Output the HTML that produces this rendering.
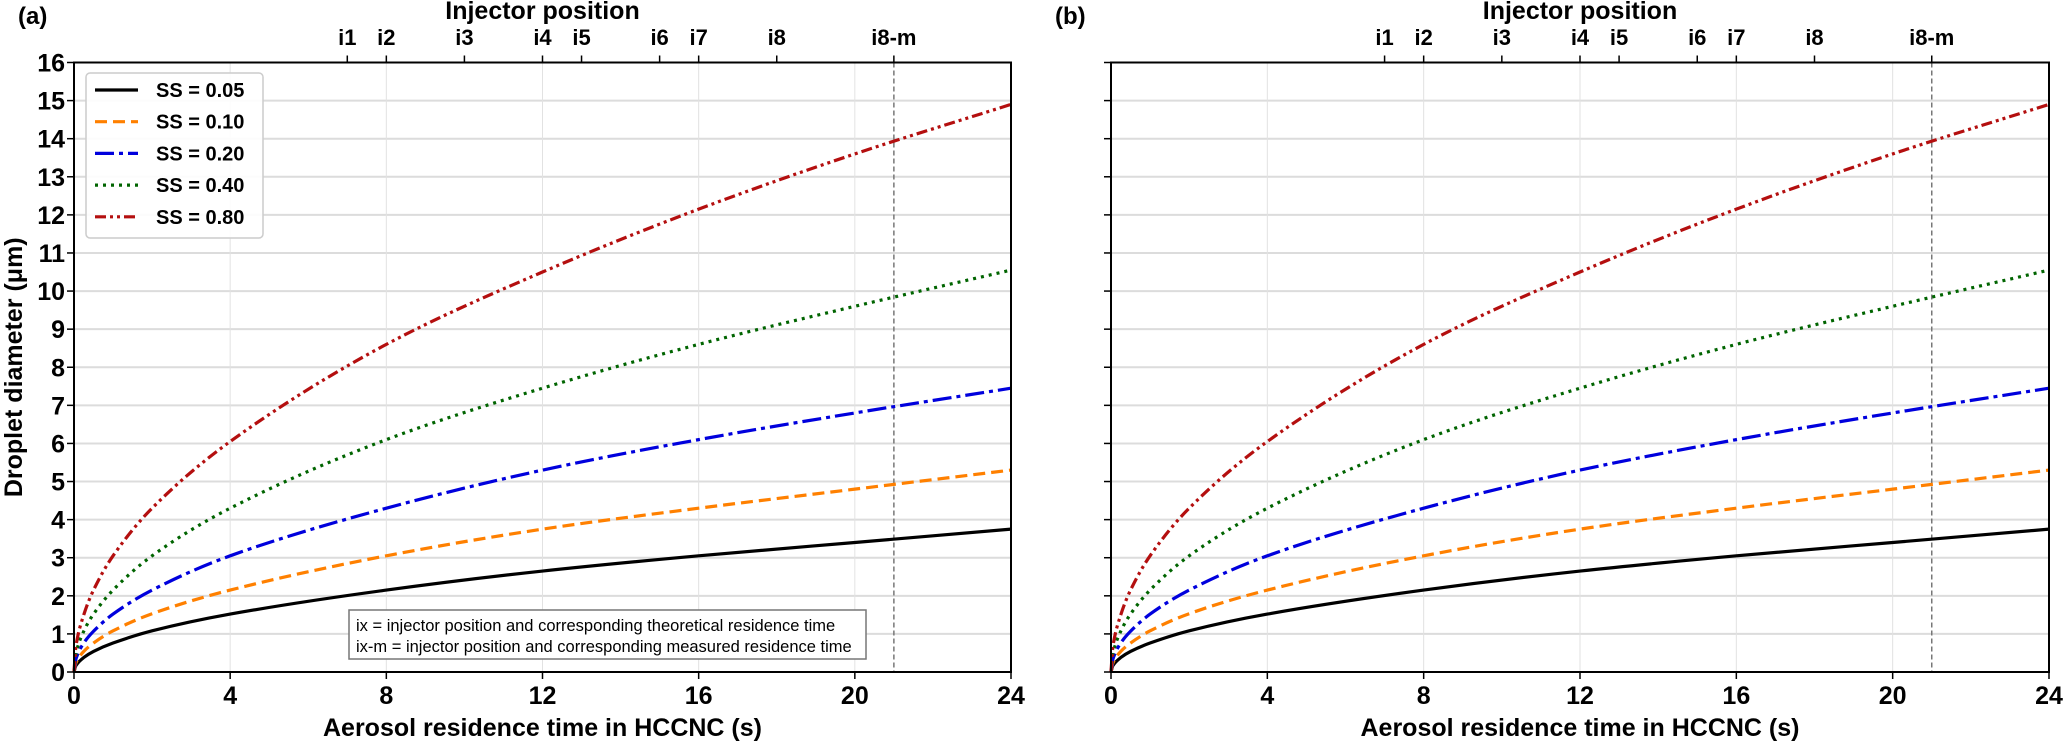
<!DOCTYPE html>
<html><head><meta charset="utf-8"><style>
html,body{margin:0;padding:0;background:#fff;}
svg{display:block;font-family:"Liberation Sans",Arial,sans-serif;}
</style></head><body>
<svg id="chart" width="2067" height="741" viewBox="0 0 2067 741" xmlns="http://www.w3.org/2000/svg"></svg>
<script>
// ---- data ----
const times = [0, 0.05, 0.25, 0.5, 1, 2, 4, 8, 12, 16, 20, 24];
const ss005 = [0, 0.17, 0.38, 0.54, 0.76, 1.08, 1.52, 2.15, 2.65, 3.05, 3.4, 3.75];
const ss010 = [0, 0.24, 0.54, 0.76, 1.08, 1.53, 2.15, 3.05, 3.75, 4.3, 4.8, 5.3];
const ss020 = [0, 0.34, 0.76, 1.07, 1.52, 2.15, 3.05, 4.3, 5.3, 6.1, 6.8, 7.45];
const ss040 = [0, 0.48, 1.07, 1.52, 2.15, 3.05, 4.3, 6.1, 7.45, 8.6, 9.6, 10.55];
const ss080 = [0, 0.68, 1.5, 2.15, 3.05, 4.3, 6.05, 8.6, 10.5, 12.15, 13.6, 14.9];
const seriesLabels = ["SS = 0.05", "SS = 0.10", "SS = 0.20", "SS = 0.40", "SS = 0.80"];
const xTicks = [0, 4, 8, 12, 16, 20, 24];
const yTicks = [0,1,2,3,4,5,6,7,8,9,10,11,12,13,14,15,16];
const injectorPos = [7, 8, 10, 12, 13, 15, 16, 18, 21];
const injectorLabels = ["i1","i2","i3","i4","i5","i6","i7","i8","i8-m"];
const measuredLine = 21;

const allSeries = [ss005, ss010, ss020, ss040, ss080];
const styles = [
  {c:"#000000", d:""},
  {c:"#ff8000", d:"12,6"},
  {c:"#0000dd", d:"19,5,4,5"},
  {c:"#006400", d:"3,5"},
  {c:"#b40f0f", d:"11,4,3,4,3,4"}
];
const NS = "http://www.w3.org/2000/svg";
const svg = document.getElementById("chart");
function mk(tag, attrs, parent, text){
  const e = document.createElementNS(NS, tag);
  for (const k in attrs) e.setAttribute(k, attrs[k]);
  if (text !== undefined) e.textContent = text;
  (parent||svg).appendChild(e);
  return e;
}
function monoPath(xs, ys){
  const n = xs.length, d=[], m=[];
  for(let i=0;i<n-1;i++) d.push((ys[i+1]-ys[i])/(xs[i+1]-xs[i]));
  m[0]=d[0]; m[n-1]=d[n-2];
  for(let i=1;i<n-1;i++){ m[i] = (d[i-1]*d[i]<=0)?0:2/(1/d[i-1]+1/d[i]); }
  let p = "M"+xs[0].toFixed(2)+","+ys[0].toFixed(2);
  for(let i=0;i<n-1;i++){
    const h=(xs[i+1]-xs[i])/3;
    p += " C"+(xs[i]+h).toFixed(2)+","+(ys[i]+m[i]*h).toFixed(2)+" "+(xs[i+1]-h).toFixed(2)+","+(ys[i+1]-m[i+1]*h).toFixed(2)+" "+xs[i+1].toFixed(2)+","+ys[i+1].toFixed(2);
  }
  return p;
}

function panel(L, R, letter, showY, showLegend){
  const T = 62.5, B = 672;
  const xS = t => L + (t/24)*(R-L);
  const yS = v => B - (v/16)*(B-T);
  const g = mk("g", {});
  
  
  const lab = mk("text", {x: L-56, y: 24, "font-size": 24, "font-weight":"bold"}, g, "("+letter+")");
  
  
  yTicks.forEach(v => {
    const gl = mk("line", {x1:L, x2:R, y1:yS(v), y2:yS(v), stroke:"#dcdcdc", "stroke-width":2}, g);
    
    
  });
  xTicks.forEach(t => {
    const gl = mk("line", {x1:xS(t), x2:xS(t), y1:T, y2:B, stroke:"#e2e2e2", "stroke-width":1}, g);
    
    
  });
  const ml = mk("line", {x1:xS(measuredLine), x2:xS(measuredLine), y1:T, y2:B, stroke:"#777", "stroke-width":1.5, "stroke-dasharray":"5,3"}, g);
  
  
  allSeries.forEach((s, i) => {
    const p = mk("path", {d: monoPath(times.map(xS), s.map(yS)), fill:"none", stroke: styles[i].c, "stroke-width":3.2, "stroke-dasharray": styles[i].d || "none"}, g);
    
    
  });
  const fr = mk("rect", {x:L, y:T, width:R-L, height:B-T, fill:"none", stroke:"#000", "stroke-width":2}, g);
  
  
  xTicks.forEach(t => {
    mk("line", {x1:xS(t), x2:xS(t), y1:B, y2:B+7, stroke:"#000", "stroke-width":1.5}, g);
    const tl = mk("text", {x:xS(t), y:704, "font-size":25, "font-weight":"bold", "text-anchor":"middle"}, g, String(t));
    
    
  });
  const xl = mk("text", {x:(L+R)/2, y:736, "font-size":25, "font-weight":"bold", "text-anchor":"middle"}, g, "Aerosol residence time in HCCNC (s)");
  
  
  yTicks.forEach(v => {
    mk("line", {x1:L-7, x2:L, y1:yS(v), y2:yS(v), stroke:"#000", "stroke-width":1.5}, g);
    if (showY){
      const tl = mk("text", {x:L-9, y:yS(v)+9, "font-size":25, "font-weight":"bold", "text-anchor":"end"}, g, String(v));
      
      
    }
  });
  if (showY){
    const yl = mk("text", {x:0, y:0, "font-size":25, "font-weight":"bold", "text-anchor":"middle", transform:"translate(22,"+((T+B)/2)+") rotate(-90)"}, g, "Droplet diameter (\u03bcm)");
    
    
  }
  injectorPos.forEach((t, i) => {
    mk("line", {x1:xS(t), x2:xS(t), y1:T-7, y2:T, stroke:"#000", "stroke-width":1.5}, g);
    const tl = mk("text", {x:xS(t), y:45, "font-size":22, "font-weight":"bold", "text-anchor":"middle"}, g, injectorLabels[i]);
    
    
  });
  const tt = mk("text", {x:(L+R)/2, y:19, "font-size":25, "font-weight":"bold", "text-anchor":"middle"}, g, "Injector position");
  
  

  if (showLegend){
    const lg = mk("g", {}, g);
    
    
    mk("rect", {x:L+12, y:73, width:177, height:165, rx:4, fill:"#fff", "fill-opacity":0.9, stroke:"#ccc", "stroke-width":1.5}, lg);
    seriesLabels.forEach((s, i) => {
      const y = 90 + i*31.7;
      const e = mk("g", {}, lg);
      
      
      mk("line", {x1:L+21, x2:L+64, y1:y, y2:y, stroke:styles[i].c, "stroke-width":3.2, "stroke-dasharray":styles[i].d || "none"}, e);
      mk("text", {x:L+82, y:y+7, "font-size":20, "font-weight":"bold"}, e, s);
    });
    const an = mk("g", {}, g);
    
    
    mk("rect", {x:349, y:610, width:517, height:49, fill:"#fff", stroke:"#777", "stroke-width":1.5}, an);
    mk("text", {x:356, y:631, "font-size":16.5}, an, "ix = injector position and corresponding theoretical residence time");
    mk("text", {x:356, y:652, "font-size":16.5}, an, "ix-m = injector position and corresponding measured residence time");
  }
}
panel(74, 1011, "a", true, true);
panel(1111, 2049, "b", false, false);
</script>
</body></html>
